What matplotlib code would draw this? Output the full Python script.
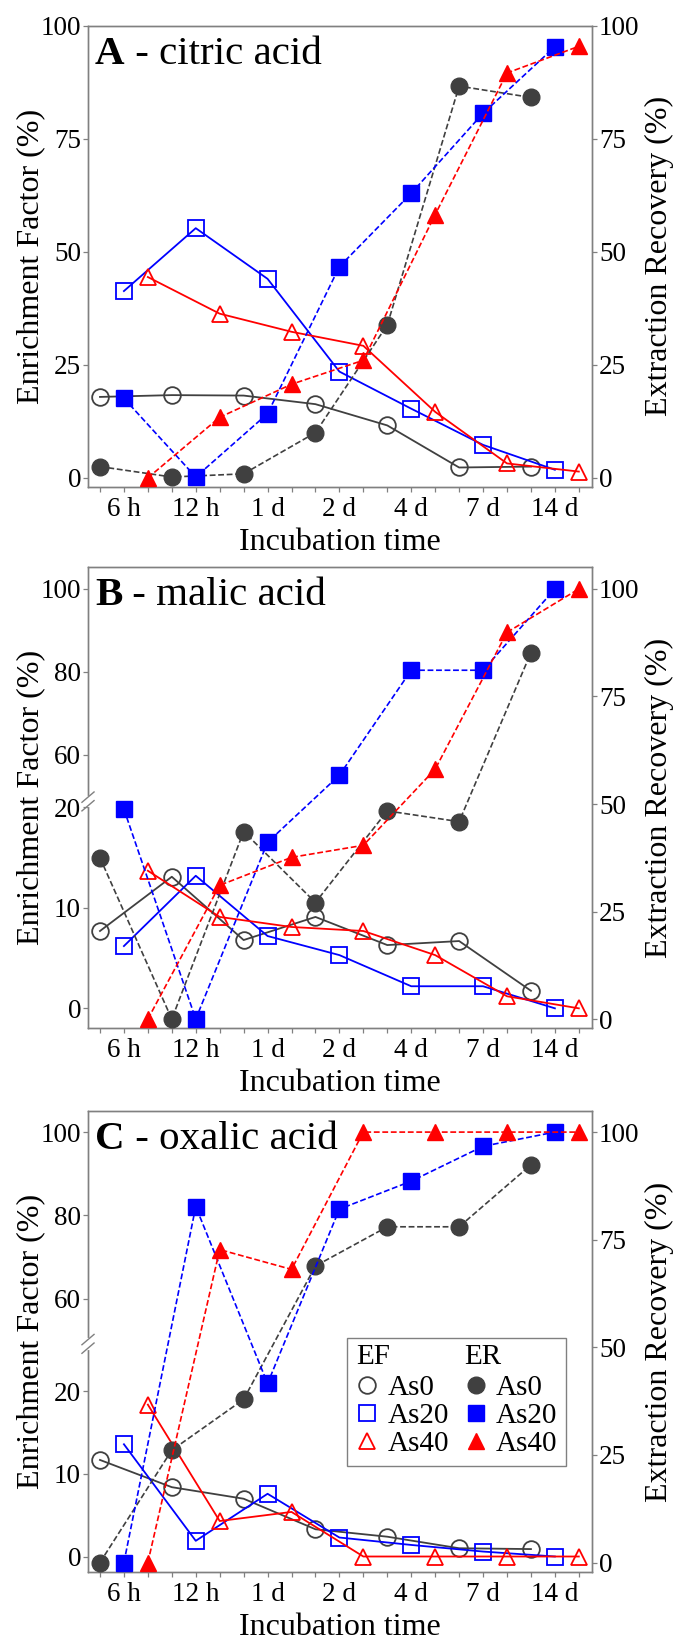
import numpy as np
import matplotlib
matplotlib.use('Agg')
import matplotlib.pyplot as plt
from matplotlib.lines import Line2D
from matplotlib.text import Text

plt.rcParams['font.family'] = ['Liberation Serif', 'DejaVu Serif']

times = ['6 h', '12 h', '1 d', '2 d', '4 d', '7 d', '14 d']

# A - citric acid
ef_A_as0 = [17.9, 18.3, 18.2, 16.3, 11.6, 2.3, 2.5]
ef_A_as20 = [41.3, 55.2, 44.0, 23.5, 15.3, 7.3, 1.8]
ef_A_as40 = [44.4, 36.3, 32.3, 29.2, 14.6, 3.2, 1.4]
er_A_as0 = [2.5, 0.2, 0.9, 10.0, 33.8, 86.6, 84.1]
er_A_as20 = [17.6, 0.2, 14.2, 46.7, 62.9, 80.6, 95.3]
er_A_as40 = [0.0, 13.4, 20.7, 26.0, 58.2, 89.5, 95.4]

# B - malic acid
ef_B_as0 = [7.7, 13.1, 6.8, 9.1, 6.3, 6.7, 1.75]
ef_B_as20 = [6.2, 13.2, 7.2, 5.3, 2.2, 2.2, 0.0]
ef_B_as40 = [13.7, 9.1, 8.1, 7.7, 5.3, 1.2, 0.0]
er_B_as0 = [37.5, 0.0, 43.6, 27.1, 48.4, 45.9, 85.2]
er_B_as20 = [48.8, 0.0, 41.1, 56.7, 81.1, 81.1, 100.0]
er_B_as40 = [0.0, 31.1, 37.6, 40.4, 58.1, 89.9, 100.0]

# C - oxalic acid
ef_C_as0 = [11.7, 8.4, 7.0, 3.3, 2.4, 1.0, 0.9]
ef_C_as20 = [13.6, 1.9, 7.6, 2.3, 1.4, 0.6, 0.0]
ef_C_as40 = [18.4, 4.3, 5.4, 0.0, 0.0, 0.0, 0.0]
er_C_as0 = [0.0, 26.1, 37.9, 68.9, 78.0, 78.0, 92.4]
er_C_as20 = [0.0, 82.7, 41.6, 82.1, 88.6, 96.7, 100.0]
er_C_as40 = [0.0, 72.7, 68.1, 100.0, 100.0, 100.0, 100.0]

GRAY = '#404040'
BLUE = '#0000ff'
RED = '#ff0000'
SPINE = '#808080'

series = [('o', GRAY), ('s', BLUE), ('^', RED)]

# left (EF) axis: value -> position on the right (ER) axis scale
ticks_A = [0, 25, 50, 75, 100]
ticks_BC = [0, 10, 20, 60, 80, 100]
map_A = ([0, 100], [0, 100])
map_B = ([0, 20, 50, 100], [2.5, 49.2, 51.75, 100])
map_C = ([0, 20, 50, 100], [1.4, 39.75, 51.65, 100])

W, H = 674, 1646
fig = plt.figure(figsize=(W / 100, H / 100), dpi=100)


def make_funcs(vp, rp):
    vp = list(vp)
    rp = list(rp)
    s0 = (rp[1] - rp[0]) / (vp[1] - vp[0])
    s1 = (rp[-1] - rp[-2]) / (vp[-1] - vp[-2])
    vx = [vp[0] - 100] + vp + [vp[-1] + 100]
    rx = [rp[0] - 100 * s0] + rp + [rp[-1] + 100 * s1]
    fwd = lambda v: np.interp(v, vx, rx)
    inv = lambda r: np.interp(r, rx, vx)
    return fwd, inv


def panel(top_px, letter, name, ef, er, vmap, rlim, eft, brk=None, legend=False):
    ax = fig.add_axes([88 / W, 1 - (top_px + 461) / H, 504 / W, 461 / H])
    fwd, inv = make_funcs(*vmap)
    ax.set_yscale('function', functions=(fwd, inv))
    ax2 = ax.twinx()

    x = np.arange(len(times)) * 3
    for i, (m, c) in enumerate(series):
        ax.plot(x + i, ef[i], color=c, lw=1.3, marker=m, ms=12,
                mfc='none', mec=c, mew=1.3, clip_on=False, zorder=3)
        ax2.plot(x + i, er[i], color=c, lw=1.2, ls=(0, (3.5, 1.6)),
                 marker=m, ms=12, mfc=c, mec=c, clip_on=False, zorder=3)

    ax.set_xlim(-0.5, 20.55)
    ax2.set_ylim(*rlim)
    ax.set_ylim(float(inv(rlim[0])), float(inv(rlim[1])))
    ax.set_yticks(eft)
    ax.set_yticklabels([str(t) for t in eft])
    ax2.set_yticks([0, 25, 50, 75, 100])
    ax.set_xticks(x + 1)
    ax.set_xticklabels(times)
    ax.set_xticks(np.arange(21), minor=True)

    for a in (ax, ax2):
        for s in a.spines.values():
            s.set_color(SPINE)
            s.set_linewidth(1.0)
        a.tick_params(axis='both', which='both', direction='out', length=3.5,
                      width=0.9, color=SPINE, labelsize=19.5, pad=1.5)
    ax.tick_params(axis='x', which='both', pad=4)

    ax.set_xlabel('Incubation time', fontsize=23)
    ax.xaxis.set_label_coords(0.5, -0.09)
    ax.set_ylabel('Enrichment Factor (%)', fontsize=23)
    ax.yaxis.set_label_coords(-0.085, 0.5)
    ax2.set_ylabel('Extraction Recovery (%)', fontsize=23, rotation=90)
    ax2.yaxis.set_label_coords(1.105, 0.5)

    t = ax2.text(0.014, 0.898, letter, transform=ax2.transAxes, fontsize=29.5,
                 fontweight='bold', va='bottom', ha='left', zorder=6)
    ax2.annotate(' - ' + name, xy=(1, 0), xycoords=t, fontsize=29.5,
                 va='bottom', ha='left', zorder=6)

    if brk is not None:
        tr = ax2.get_yaxis_transform()
        ax2.plot([0, 0], [brk - 0.9, brk + 0.9], color='white', lw=3,
                 transform=tr, clip_on=False, zorder=6)
        for off in (-1.0, 1.0):
            ax2.plot([-0.012, 0.012], [brk + off - 1.2, brk + off + 1.2],
                     color=SPINE, lw=1.0, transform=tr, clip_on=False, zorder=7)

    if legend:
        class Header:
            def __init__(self, s):
                self.s = s

        class HeaderHandler:
            def legend_artist(self, lg, orig, fontsize, hb):
                txt = Text(hb.xdescent, hb.ydescent + hb.height / 2, orig.s,
                           fontsize=fontsize, va='center', ha='left')
                hb.add_artist(txt)
                return txt

        hs = [Header('EF')]
        for m, c in series:
            hs.append(Line2D([], [], ls='none', marker=m, ms=12, mfc='none',
                             mec=c, mew=1.3))
        hs.append(Header('ER'))
        for m, c in series:
            hs.append(Line2D([], [], ls='none', marker=m, ms=12, mfc=c, mec=c))
        labels = ['', 'As0', 'As20', 'As40', '', 'As0', 'As20', 'As40']
        lg = ax2.legend(hs, labels, handler_map={Header: HeaderHandler()},
                        ncol=2, loc='upper left', bbox_to_anchor=(0.514, 0.507),
                        fontsize=21, frameon=True, fancybox=False,
                        edgecolor=SPINE, framealpha=1, borderpad=0.3,
                        labelspacing=0.05, handlelength=0.8, handletextpad=0.3,
                        columnspacing=0.5, borderaxespad=0)
        lg.get_frame().set_linewidth(1.0)
        lg.set_zorder(10)
    return ax, ax2


panel(25.5, 'A', 'citric acid',
      [ef_A_as0, ef_A_as20, ef_A_as40], [er_A_as0, er_A_as20, er_A_as40],
      map_A, (-1.9, 100), ticks_A)
panel(567, 'B', 'malic acid',
      [ef_B_as0, ef_B_as20, ef_B_as40], [er_B_as0, er_B_as20, er_B_as40],
      map_B, (-2.07, 105.1), ticks_BC, brk=50.6)
panel(1111, 'C', 'oxalic acid',
      [ef_C_as0, ef_C_as20, ef_C_as40], [er_C_as0, er_C_as20, er_C_as40],
      map_C, (-2.2, 104.9), ticks_BC, brk=50.8, legend=True)

fig.savefig('out.png', dpi=100)
